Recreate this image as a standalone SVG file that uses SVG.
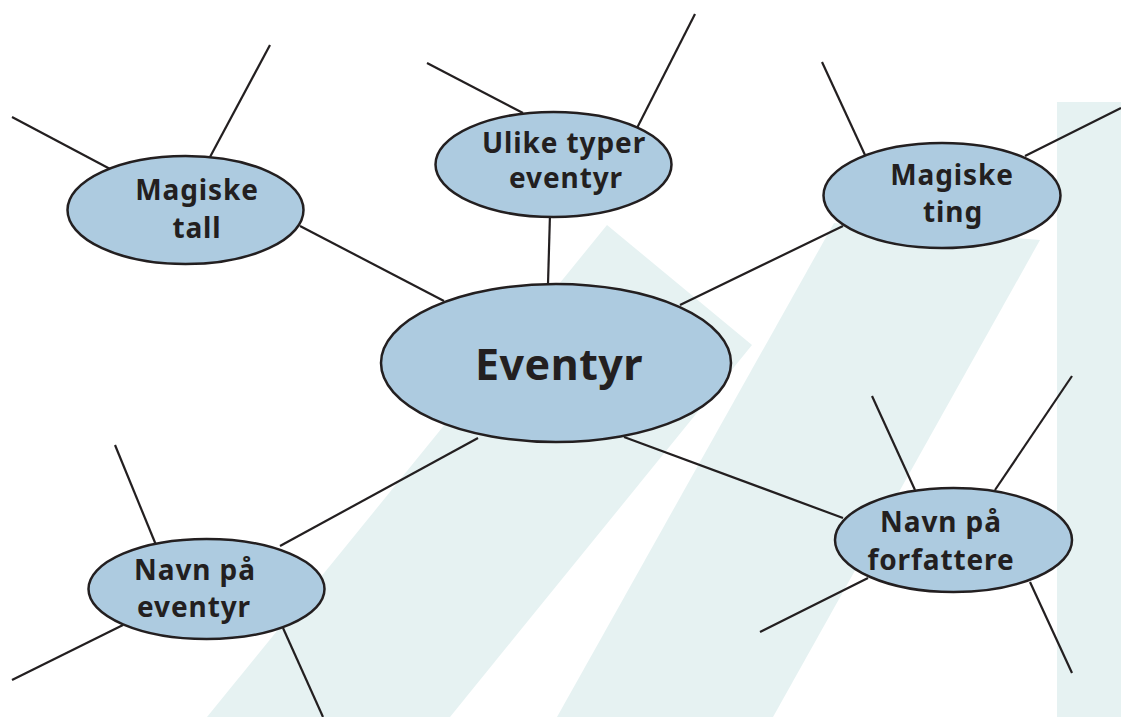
<svg xmlns="http://www.w3.org/2000/svg" width="1121" height="717" viewBox="0 0 1121 717">
<style>
.bg{fill:#E6F2F2;stroke:none}
.node{fill:#ADCBE0;stroke:#231F20;stroke-width:2.5}
.conn line{stroke:#231F20;stroke-width:2.2;stroke-linecap:butt}
.lbl{font-family:"Noto Sans","DejaVu Sans",sans-serif;font-weight:700;font-size:28px;fill:#231F20;text-anchor:middle;letter-spacing:0.9px}
.big{font-size:43px;letter-spacing:0.5px}
</style>
<rect width="1121" height="717" fill="#FFFFFF"/>
<g id="background">
<polygon class="bg" points="607,225 752,345 450,717 207,717"/>
<polygon class="bg" points="834,223 1040,240 773,717 557,717"/>
<rect class="bg" x="1057" y="102" width="64" height="615"/>
</g>
<g id="connectors" class="conn">
<line x1="300" y1="226" x2="444" y2="301"/>
<line x1="12" y1="117" x2="112" y2="170"/>
<line x1="270" y1="45" x2="210" y2="157"/>
<line x1="550" y1="214" x2="548" y2="284"/>
<line x1="427" y1="63" x2="523" y2="113"/>
<line x1="695" y1="14" x2="637" y2="128"/>
<line x1="680" y1="305" x2="843" y2="226"/>
<line x1="822" y1="62" x2="865" y2="155"/>
<line x1="1121" y1="108" x2="1025" y2="156"/>
<line x1="478" y1="438" x2="280" y2="546"/>
<line x1="115" y1="445" x2="156" y2="545"/>
<line x1="12" y1="680" x2="123" y2="625"/>
<line x1="283" y1="628" x2="323" y2="717"/>
<line x1="624" y1="437" x2="843" y2="518"/>
<line x1="872" y1="396" x2="915" y2="490"/>
<line x1="1072" y1="376" x2="995" y2="490"/>
<line x1="760" y1="632" x2="868" y2="578"/>
<line x1="1030" y1="582" x2="1072" y2="673"/>
</g>
<g id="node-eventyr">
<ellipse class="node" cx="556" cy="363" rx="175" ry="79"/>
<text class="lbl big" x="559" y="380">Eventyr</text>
</g>
<g id="node-magiske-tall">
<ellipse class="node" cx="185.5" cy="210" rx="118" ry="54"/>
<text class="lbl" x="197" y="200">Magiske</text>
<text class="lbl" x="197" y="238">tall</text>
</g>
<g id="node-ulike-typer">
<ellipse class="node" cx="553.5" cy="164.5" rx="118" ry="52.5"/>
<text class="lbl" x="564" y="153">Ulike typer</text>
<text class="lbl" x="566" y="188">eventyr</text>
</g>
<g id="node-magiske-ting">
<ellipse class="node" cx="942" cy="195.5" rx="118.5" ry="52.5"/>
<text class="lbl" x="952" y="185">Magiske</text>
<text class="lbl" x="953" y="222">ting</text>
</g>
<g id="node-navn-eventyr">
<ellipse class="node" cx="206.5" cy="589" rx="118" ry="50"/>
<text class="lbl" x="195" y="580">Navn på</text>
<text class="lbl" x="194" y="617">eventyr</text>
</g>
<g id="node-navn-forfattere">
<ellipse class="node" cx="953.5" cy="540" rx="118.5" ry="52"/>
<text class="lbl" x="941" y="532">Navn på</text>
<text class="lbl" x="941" y="570">forfattere</text>
</g>
</svg>
